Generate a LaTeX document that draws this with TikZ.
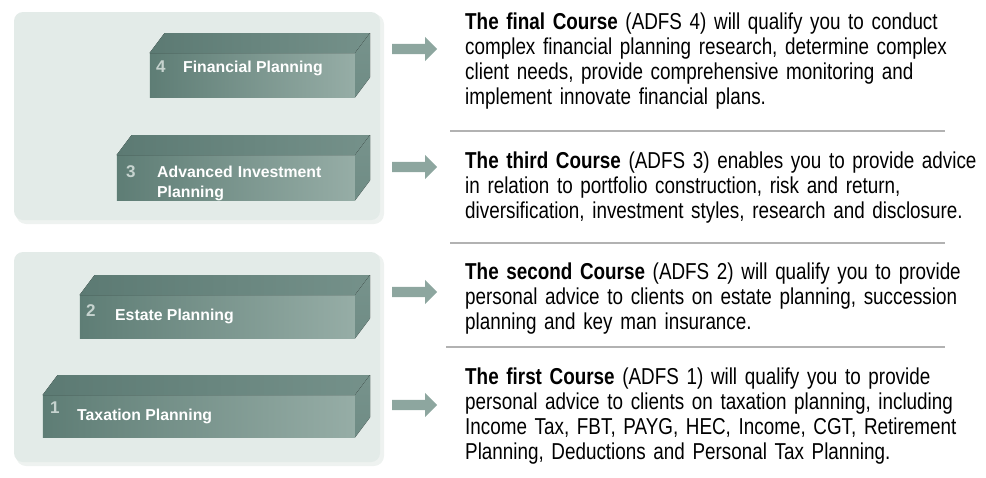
\documentclass[tikz,border=0pt]{standalone}
\usepackage{fontspec}
\setmainfont{Liberation Sans}
\newfontfamily\narrowfont{Liberation Sans}[FakeStretch=0.82]
\usetikzlibrary{positioning, shapes.arrows}

\definecolor{panelbg}{HTML}{E3EBE8}
\definecolor{panelshade}{HTML}{EEF2F0}
\definecolor{blockdark}{HTML}{5E7D75}
\definecolor{blocklight}{HTML}{96ADA6}
\definecolor{blocktop}{HTML}{5C7A73}
\definecolor{blockside}{HTML}{6F8C85}
\definecolor{numgray}{HTML}{C6D3CF}
\definecolor{arrowgreen}{HTML}{8DA69F}
\definecolor{ruler}{HTML}{B2B2B2}

\begin{document}
\begin{tikzpicture}[x=1pt, y=-1pt,
    panel/.style={fill=panelbg, rounded corners=9pt},
    block front/.style={left color=blockdark, right color=blocklight, minimum height=44pt, inner sep=0pt, anchor=north east},
    block num/.style={font=\fontsize{17}{17}\selectfont\bfseries, text=numgray, inner sep=0pt, anchor=base west},
    block label/.style={font=\fontsize{15.8}{20}\selectfont\bfseries, text=white, inner sep=0pt, anchor=base west, align=left},
    go arrow/.style={single arrow, fill=arrowgreen, inner sep=5pt, minimum height=45pt, single arrow head extend=7pt, anchor=tail},
    course text/.style={font=\narrowfont\fontsize{23}{25.3}\selectfont, text width=520pt, align=left, inner sep=0pt, anchor=base west},
    ruler line/.style={draw=ruler, line width=1.5pt}]

    \useasboundingbox (0,0) rectangle (986,477);

    % Background panels
    \fill[panelshade, rounded corners=10pt] (16,14) rectangle (384,224);
    \fill[panelshade, rounded corners=10pt] (16,254) rectangle (384,466);
    \fill[panel] (14,12) rectangle (380,220);
    \fill[panel] (14,252) rectangle (380,462);

    % Blocks (front faces)
    \node[block front, minimum width=205pt] (f4) at (355,53) {};
    \node[block front, minimum width=238pt, minimum height=45pt] (f3) at (355,155) {};
    \node[block front, minimum width=275pt, minimum height=43pt] (f2) at (355,295) {};
    \node[block front, minimum width=312pt, minimum height=42pt] (f1) at (355,395) {};

    % Top and side faces
    \foreach \b in {f4,f3,f2,f1} {
        \fill[left color=blocktop, right color=blockside!85!blocklight]
            (\b.north west) -- ++(15,-20) -- ([shift={(15,-20)}]\b.north east)
            -- (\b.north east) -- cycle;
        \fill[top color=blockside!80!blocklight, bottom color=blockside]
            (\b.north east) -- ([shift={(15,-20)}]\b.north east)
            -- ([shift={(15,-20)}]\b.south east) -- (\b.south east) -- cycle;
    }

    % Numbers and labels
    \node[block num] (n4) at (156,72) {4};
    \node[block label] (l4) at (183,72) {Financial Planning};
    \node[block num] (n3) at (126,177) {3};
    \begin{scope}
        \clip (f3.north west) rectangle (f3.south east);
        \node[block label, text width=200pt] (l3) at (157,177) {Advanced Investment\\Planning};
    \end{scope}
    \node[block num] (n2) at (86,316) {2};
    \node[block label] (l2) at (115,320) {Estate Planning};
    \node[block num] (n1) at (50,413) {1};
    \node[block label] (l1) at (77,420) {Taxation Planning};

    % Arrows
    \node[go arrow] (a4) at (392,49) {};
    \node[go arrow] (a3) at (392,167) {};
    \node[go arrow] (a2) at (392,292) {};
    \node[go arrow] (a1) at (392,405) {};

    % Course descriptions
    \node[course text] (c4) at (465,29) {\textbf{The final Course} (ADFS 4) will qualify you to conduct\\
        complex financial planning research, determine complex\\
        client needs, provide comprehensive monitoring and\\
        implement innovate financial plans.};
    \node[course text] (c3) at (465,168) {\textbf{The third Course} (ADFS 3) enables you to provide advice\\
        in relation to portfolio construction, risk and return,\\
        diversification, investment styles, research and disclosure.};
    \node[course text] (c2) at (465,279) {\textbf{The second Course} (ADFS 2) will qualify you to provide\\
        personal advice to clients on estate planning, succession\\
        planning and key man insurance.};
    \node[course text] (c1) at (465,384) {\textbf{The first Course} (ADFS 1) will qualify you to provide\\
        personal advice to clients on taxation planning, including\\
        Income Tax, FBT, PAYG, HEC, Income, CGT, Retirement\\
        Planning, Deductions and Personal Tax Planning.};

    % Separators
    \draw[ruler line] (450,131) -- (945,131);
    \draw[ruler line] (450,243) -- (945,243);
    \draw[ruler line] (446,347) -- (945,347);
\end{tikzpicture}
\end{document}
